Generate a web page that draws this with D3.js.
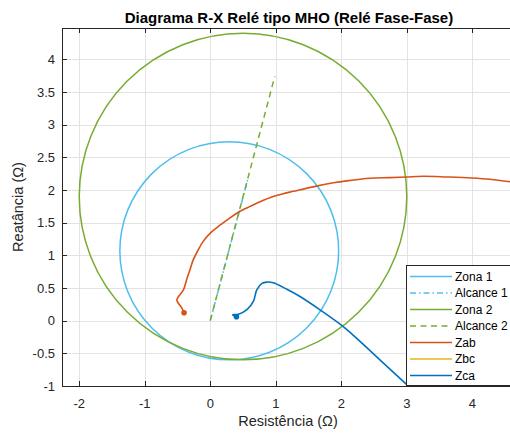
<!DOCTYPE html>
<html>
<head>
<meta charset="utf-8">
<script src="https://cdn.jsdelivr.net/npm/d3@7/dist/d3.min.js"></script>
<style>
  html, body { margin: 0; padding: 0; background: #fff; overflow: hidden; }
  svg { display: block; font-family: "Liberation Sans", Arial, Helvetica, sans-serif; }
</style>
</head>
<body>
<svg id="chart" width="510" height="433"></svg>
<script>
// Axis ticks
const rTicks = [-2, -1, 0, 1, 2, 3, 4];
const xTicks = [-1, -0.5, 0, 0.5, 1, 1.5, 2, 2.5, 3, 3.5, 4];

// Mho zones (circles): centre (R, X) and radius
const zoneNames   = ["Zona 1", "Zona 2"];
const zoneCenterR = [0.29, 0.50];
const zoneCenterX = [1.07, 1.90];
const zoneRadius  = [1.67, 2.50];
const zoneColors  = ["#4DBEEE", "#77AC30"];

// Reach lines from the origin
const reachNames = ["Alcance 1", "Alcance 2"];
const reachEndR  = [0.575, 0.985];
const reachEndX  = [2.17, 3.74];
const reachDash  = ["6,3,1.5,3", "6,4.5"];

// Impedance trajectories
const zabR = [-0.40, -0.435, -0.51, -0.49, -0.41, -0.36, -0.31, -0.26, -0.18, -0.11, 0.00, 0.12, 0.27, 0.43, 0.61, 0.76, 0.96, 1.10, 1.27, 1.62, 1.88, 2.08, 2.44, 2.74, 2.99, 3.25, 3.61, 3.99, 4.27, 4.62];
const zabX = [0.12, 0.195, 0.31, 0.36, 0.47, 0.63, 0.78, 0.93, 1.09, 1.21, 1.34, 1.44, 1.55, 1.66, 1.75, 1.82, 1.90, 1.94, 1.98, 2.06, 2.11, 2.14, 2.18, 2.19, 2.20, 2.21, 2.20, 2.185, 2.165, 2.12];
const zbcR = [];
const zbcX = [];
const zcaR = [0.40, 0.34, 0.43, 0.56, 0.66, 0.71, 0.79, 0.86, 0.96, 1.17, 1.37, 1.67, 2.03, 2.29, 2.59, 3.00, 3.05];
const zcaX = [0.06, 0.09, 0.10, 0.17, 0.30, 0.47, 0.57, 0.59, 0.58, 0.48, 0.37, 0.17, -0.09, -0.32, -0.60, -0.98, -1.03];

const trajNames  = ["Zab", "Zbc", "Zca"];
const trajColors = ["#D95319", "#EDB120", "#0072BD"];

const svg = d3.select("#chart");
const pLeft = 62, pTop = 28, pRight = 516, pBottom = 386;

const x = d3.scaleLinear().domain([-2.263, 4.667]).range([pLeft, pRight]);
const y = d3.scaleLinear().domain([-1, 4.48]).range([pBottom, pTop]);

const axisColor = "#262626";

// Grid
const grid = svg.append("g");
grid.selectAll(".gx").data(rTicks).join("line")
  .attr("x1", d => Math.round(x(d)) + 0.5).attr("x2", d => Math.round(x(d)) + 0.5)
  .attr("y1", pTop).attr("y2", pBottom)
  .attr("stroke", "#e3e3e3").attr("stroke-width", 1);
grid.selectAll(".gy").data(xTicks).join("line")
  .attr("x1", pLeft).attr("x2", pRight)
  .attr("y1", d => Math.round(y(d)) + 0.5).attr("y2", d => Math.round(y(d)) + 0.5)
  .attr("stroke", "#e3e3e3").attr("stroke-width", 1);

// Clip region
svg.append("clipPath").attr("id", "plotClip")
  .append("rect").attr("x", pLeft).attr("y", pTop)
  .attr("width", pRight - pLeft).attr("height", pBottom - pTop);

const plot = svg.append("g").attr("clip-path", "url(#plotClip)");
const line = d3.line().x(d => x(d[0])).y(d => y(d[1]));

// Zone circles
zoneNames.forEach((name, i) => {
  plot.append("ellipse")
    .attr("cx", x(zoneCenterR[i])).attr("cy", y(zoneCenterX[i]))
    .attr("rx", x(zoneCenterR[i] + zoneRadius[i]) - x(zoneCenterR[i]))
    .attr("ry", y(zoneCenterX[i]) - y(zoneCenterX[i] + zoneRadius[i]))
    .attr("fill", "none").attr("stroke", zoneColors[i]).attr("stroke-width", 1.5);
});

// Reach lines
reachNames.forEach((name, i) => {
  plot.append("path")
    .attr("d", line([[0, 0], [reachEndR[i], reachEndX[i]]]))
    .attr("fill", "none").attr("stroke", zoneColors[i])
    .attr("stroke-width", 1.5).attr("stroke-dasharray", reachDash[i]);
});

// Trajectories
const trajR = [zabR, zbcR, zcaR];
const trajX = [zabX, zbcX, zcaX];
trajNames.forEach((name, i) => {
  const pts = trajR[i].map((r, k) => [r, trajX[i][k]]);
  if (!pts.length) return;
  plot.append("path")
    .attr("d", d3.line().curve(d3.curveCatmullRom).x(d => x(d[0])).y(d => y(d[1]))(pts))
    .attr("fill", "none").attr("stroke", trajColors[i]).attr("stroke-width", 1.6)
    .attr("stroke-linejoin", "round");
  plot.append("circle")
    .attr("cx", x(pts[0][0])).attr("cy", y(pts[0][1])).attr("r", 2.8)
    .attr("fill", trajColors[i]);
});

// Axes box
const axes = svg.append("g").attr("stroke", axisColor).attr("fill", "none");
axes.append("line").attr("x1", pLeft).attr("x2", pRight).attr("y1", pBottom + 0.5).attr("y2", pBottom + 0.5);
axes.append("line").attr("x1", pLeft).attr("x2", pRight).attr("y1", pTop + 0.5).attr("y2", pTop + 0.5);
axes.append("line").attr("x1", pLeft + 0.5).attr("x2", pLeft + 0.5).attr("y1", pTop).attr("y2", pBottom);

// Inward ticks
const tl = 5;
rTicks.forEach(t => {
  const px = Math.round(x(t)) + 0.5;
  axes.append("line").attr("x1", px).attr("x2", px).attr("y1", pBottom).attr("y2", pBottom - tl);
  axes.append("line").attr("x1", px).attr("x2", px).attr("y1", pTop).attr("y2", pTop + tl);
});
xTicks.forEach(t => {
  const py = Math.round(y(t)) + 0.5;
  axes.append("line").attr("x1", pLeft).attr("x2", pLeft + tl).attr("y1", py).attr("y2", py);
});

// Tick labels
svg.append("g").selectAll("text").data(rTicks).join("text")
  .attr("x", d => x(d)).attr("y", pBottom + 22)
  .attr("text-anchor", "middle").attr("font-size", 13).attr("fill", axisColor)
  .text(d => d);
svg.append("g").selectAll("text").data(xTicks).join("text")
  .attr("x", pLeft - 7).attr("y", d => y(d) + 4.5)
  .attr("text-anchor", "end").attr("font-size", 13).attr("fill", axisColor)
  .text(d => d);

// Titles
svg.append("text").attr("x", 289).attr("y", 23)
  .attr("text-anchor", "middle").attr("font-size", 15).attr("font-weight", "bold")
  .attr("fill", "#000").text("Diagrama R-X Relé tipo MHO (Relé Fase-Fase)");
svg.append("text").attr("x", 288).attr("y", 426)
  .attr("text-anchor", "middle").attr("font-size", 14.5).attr("fill", axisColor)
  .text("Resistência (Ω)");
svg.append("text").attr("transform", `translate(23, ${(pTop + pBottom) / 2}) rotate(-90)`)
  .attr("text-anchor", "middle").attr("font-size", 14.5).attr("fill", axisColor)
  .text("Reatância (Ω)");

// Legend
const legItems = [
  { name: zoneNames[0], color: zoneColors[0], dash: null },
  { name: reachNames[0], color: zoneColors[0], dash: reachDash[0] },
  { name: zoneNames[1], color: zoneColors[1], dash: null },
  { name: reachNames[1], color: zoneColors[1], dash: reachDash[1] },
  { name: trajNames[0], color: trajColors[0], dash: null },
  { name: trajNames[1], color: trajColors[1], dash: null },
  { name: trajNames[2], color: trajColors[2], dash: null }
];
const lg = svg.append("g").attr("transform", "translate(406, 265)");
lg.append("rect").attr("x", 0.5).attr("y", 0.5).attr("width", 112).attr("height", 120)
  .attr("fill", "#fff").attr("stroke", axisColor).attr("stroke-width", 1);
legItems.forEach((it, i) => {
  const cy = 11.5 + i * 16.5;
  lg.append("line").attr("x1", 4).attr("x2", 46).attr("y1", cy).attr("y2", cy)
    .attr("stroke", it.color).attr("stroke-width", 1.6)
    .attr("stroke-dasharray", it.dash);
  lg.append("text").attr("x", 49).attr("y", cy + 4.3)
    .attr("font-size", 12).attr("fill", "#000").text(it.name);
});
</script>
</body>
</html>
